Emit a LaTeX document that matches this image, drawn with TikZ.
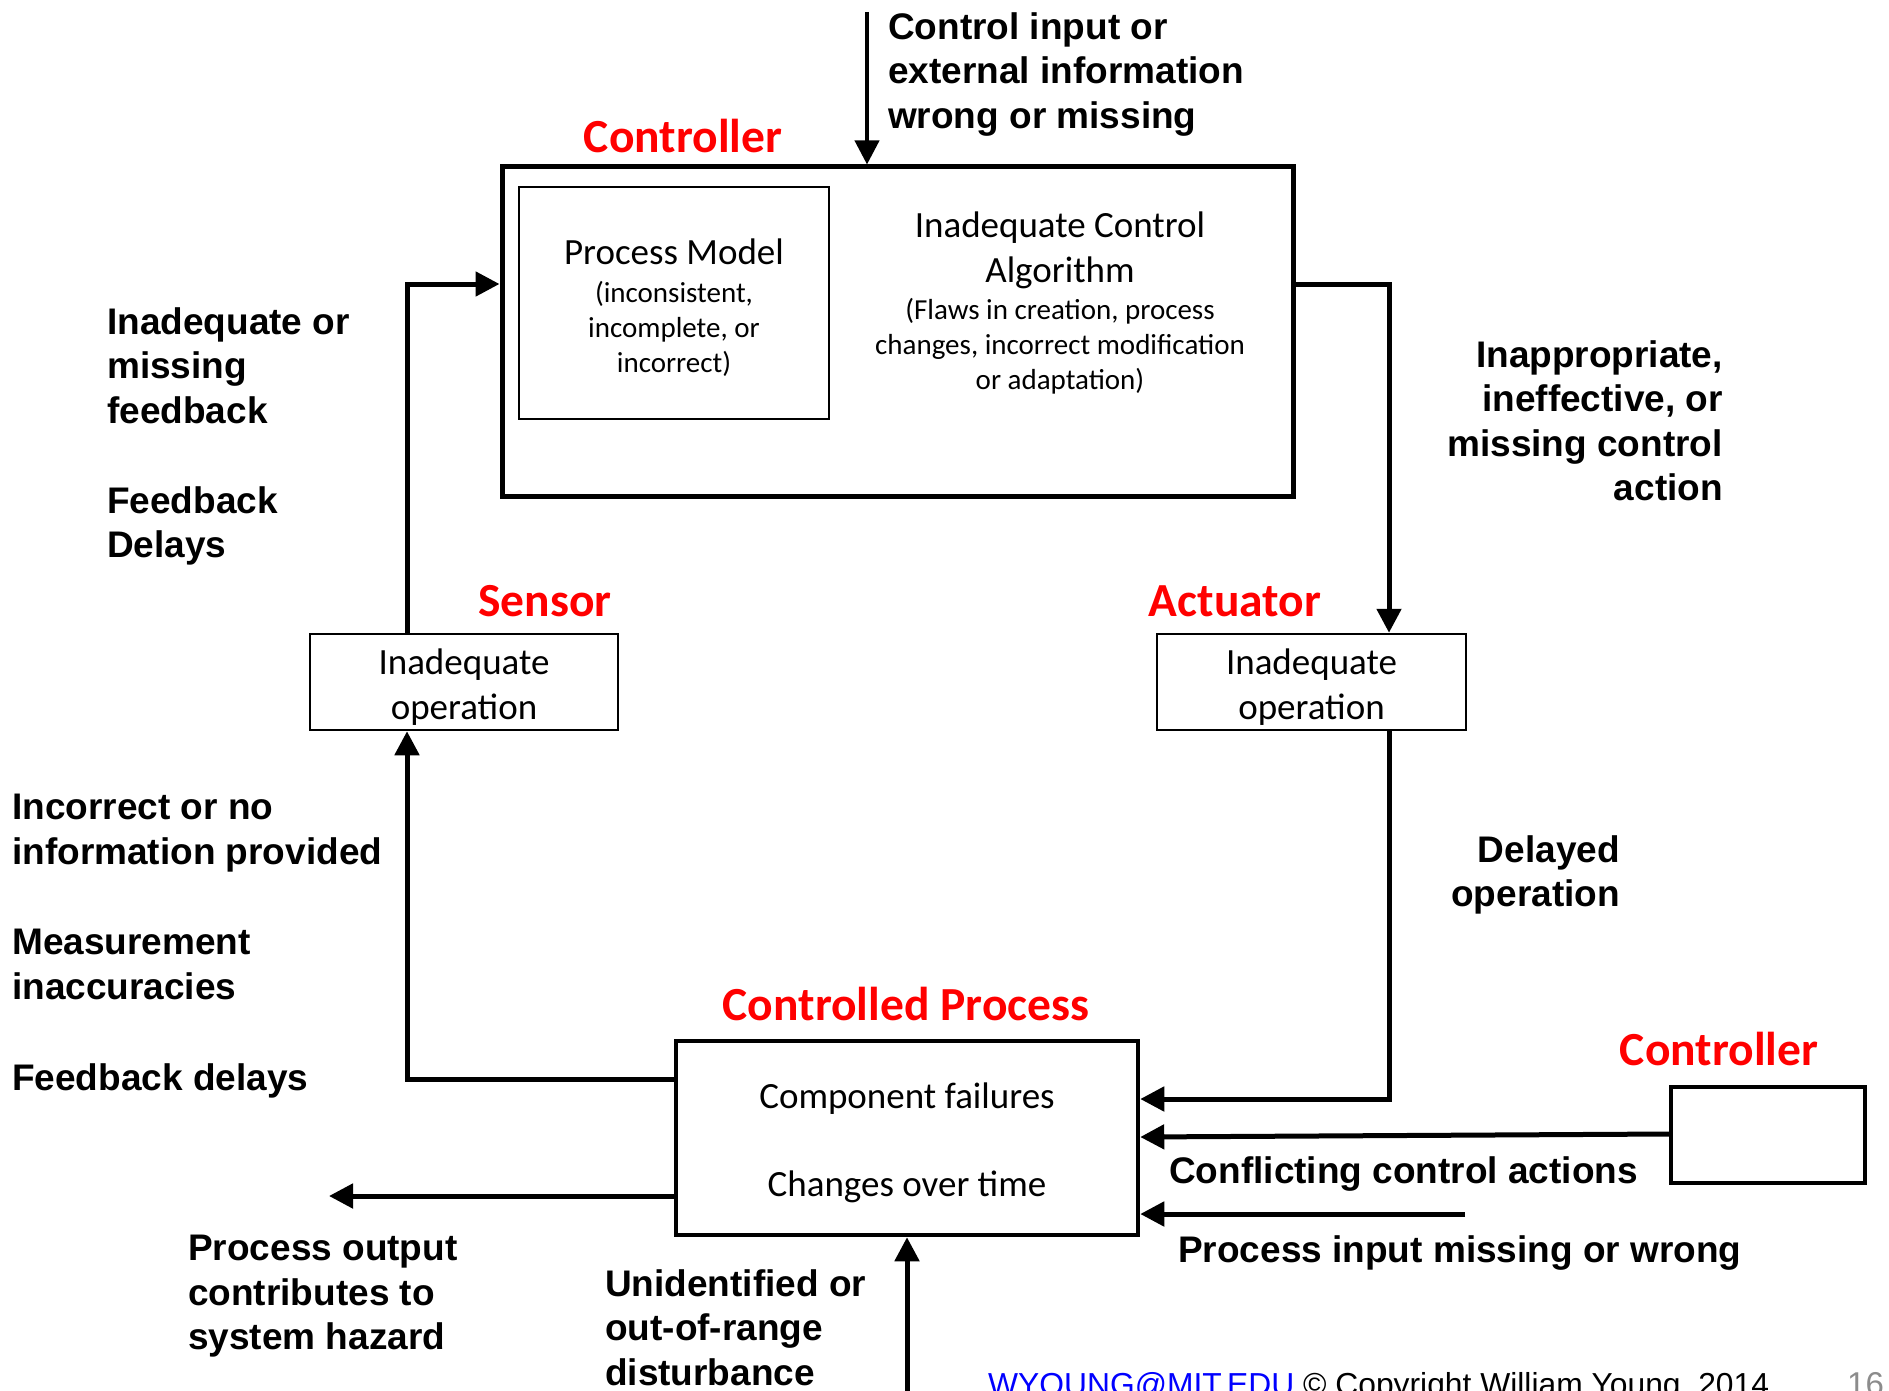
\documentclass[tikz,border=0pt]{standalone}
\usepackage{fontspec}
\setmainfont{Carlito}
\newfontfamily\arialfont{Liberation Sans}
\usetikzlibrary{arrows.meta}
\begin{document}
\begin{tikzpicture}[x=1pt,y=-1pt,
  lbl/.style={font=\arialfont\bfseries\fontsize{37}{44.6}\selectfont, inner sep=0pt, yshift=-1pt},
  tag/.style={font=\bfseries\fontsize{47.5}{57}\selectfont, text=red, inner sep=0pt},
  body/.style={font=\fontsize{37}{44.6}\selectfont, inner sep=0pt, align=center},
  note/.style={font=\fontsize{29}{35}\selectfont, inner sep=0pt, align=center},
  wire/.style={line width=5pt, -{Triangle[length=24pt,width=24pt]}},
  thickbox/.style={draw, line width=5pt, inner sep=0pt},
  thinbox/.style={draw, line width=2.5pt, inner sep=0pt},
]
\fill[white] (0,0) rectangle (1889,1391);
\useasboundingbox (0,0) rectangle (1889,1391);

% controller with its process model and control algorithm
\node[thickbox, minimum width=791pt, minimum height=329pt] (ctrl) at (897.5,331.5) {};
\node[tag] (ctrltag) at (683,136) {Controller};
\node[thinbox, minimum width=310pt, minimum height=232pt] (pm) at (674,303) {};
\node[body, anchor=north] (pmtitle) at (674,239) {Process Model};
\node[note, anchor=north] (pmnote) at (674,281) {(inconsistent,\\incomplete, or\\incorrect)};
\node[body, anchor=north] (algo) at (1060,212) {Inadequate Control\\Algorithm};
\node[note, anchor=north] (algonote) at (1060,298) {(Flaws in creation, process\\changes, incorrect modification\\or adaptation)};

% sensor and actuator
\node[thinbox, minimum width=308pt, minimum height=96pt] (sens) at (464,682) {};
\node[body] (senstext) at ([yshift=-5pt]sens.center) {Inadequate\\operation};
\node[tag] (senstag) at (545,601) {Sensor};
\node[thinbox, minimum width=309pt, minimum height=96pt] (act) at (1311.5,682) {};
\node[body] (acttext) at ([yshift=-5pt]act.center) {Inadequate\\operation};
\node[tag] (acttag) at (1235,601) {Actuator};

% controlled process and second controller
\node[thickbox, line width=4.5pt, minimum width=462pt, minimum height=194pt] (proc) at (907,1138) {};
\node[body] (proctext) at ([yshift=-5pt]proc.center) {Component failures\\[44pt]Changes over time};
\node[tag] (proctag) at (906,1004) {Controlled Process};
\node[draw, line width=4pt, minimum width=194pt, minimum height=96pt] (ctrl2) at (1768,1135) {};
\node[tag] (ctrl2tag) at (1719,1049) {Controller};

% connector routing points
\coordinate (cin) at (867,12);
\coordinate (fbx) at (407,0);
\coordinate (actx) at (1389,0);
\coordinate (topy) at (0,284);
\coordinate (sensy) at (0,1079);
\coordinate (acty) at (0,1099);
\coordinate (pin) at (1465,1214);
\coordinate (pout) at (329,1196);
\coordinate (dist) at (907,1400);

\draw[wire, line width=4pt] (cin) -- (cin |- ctrl.north);
\draw[wire] (fbx |- sens.north) |- (ctrl.west |- topy);
\draw[wire] (ctrl.east |- topy) -| (actx |- act.north);
\draw[wire] (actx |- act.south) |- (proc.east |- acty);
\draw[wire] (proc.west |- sensy) -| (fbx |- sens.south);
\draw[wire] (ctrl2.west |- 0,1134) -- (proc.east |- 0,1137);
\draw[wire] (pin) -- (proc.east |- pin);
\draw[wire] (proc.west |- pout) -- (pout);
\draw[wire] (dist) -- (dist |- proc.south);

% failure annotations
\node[lbl, anchor=north west, align=left] (l1) at (888,11) {Control input or\\external information\\wrong or missing};
\node[lbl, anchor=north west, align=left] (l2) at (107,306) {Inadequate or\\missing\\feedback};
\node[lbl, anchor=north west, align=left] (l3) at (107,485) {Feedback\\Delays};
\node[lbl, anchor=north east, align=right] (l4) at (1723,339) {Inappropriate,\\ineffective, or\\missing control\\action};
\node[lbl, anchor=north west, align=left] (l5) at (12,793) {Incorrect or no\\information provided};
\node[lbl, anchor=north west, align=left] (l6) at (12,928) {Measurement\\inaccuracies};
\node[lbl, anchor=north west, align=left] (l7) at (12,1062) {Feedback delays};
\node[lbl, anchor=north east, align=right] (l8) at (1620,834) {Delayed\\operation};
\node[lbl, anchor=north west] (l9) at (1169,1155) {Conflicting control actions};
\node[lbl, anchor=north west] (l10) at (1178,1234) {Process input missing or wrong};
\node[lbl, anchor=north west, align=left] (l11) at (188,1234) {Process output\\contributes to\\system hazard};
\node[lbl, anchor=north west, align=left] (l12) at (605,1268) {Unidentified or\\out-of-range\\disturbance};

% footer
\node[anchor=base west, inner sep=0pt, font=\arialfont\fontsize{31.8}{38}\selectfont] (foot) at (988,1395)
  {\textcolor{blue}{\underline{WYOUNG@MIT.EDU}} \textcopyright{} Copyright William Young, 2014};
\node[anchor=base west, inner sep=0pt, font=\arialfont\fontsize{33}{38}\selectfont, text=black!45] (page) at (1847,1395) {16};
\end{tikzpicture}
\end{document}
